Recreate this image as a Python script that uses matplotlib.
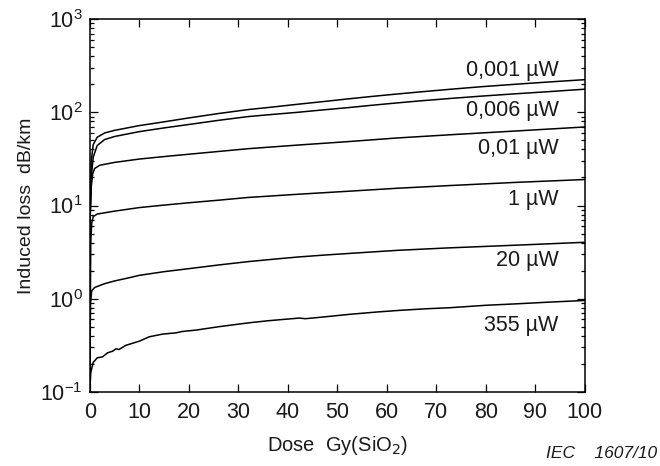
import matplotlib
matplotlib.use("Agg")
import matplotlib.pyplot as plt
import numpy as np

plt.rcParams['font.family'] = ['Liberation Sans', 'DejaVu Sans']
plt.rcParams['axes.unicode_minus'] = False

# Induced loss vs. dose for each launched power
power_labels = ['0,001 µW', '0,006 µW', '0,01 µW', '1 µW', '20 µW', '355 µW']

dose_0001 = [0, 0.1, 0.3, 0.7, 1.5, 3, 5, 10, 15, 20, 26, 32, 37, 42, 47, 52, 57, 62, 67, 73, 79, 86, 93, 100]
loss_0001 = [0.1, 9, 30, 45, 54, 60, 64, 72, 79, 87, 97, 107, 114, 122, 130, 139, 148, 157, 166, 177, 188, 200, 212, 224]

dose_0006 = [0, 0.1, 0.3, 0.7, 1.5, 3, 5, 10, 15, 20, 26, 32, 37, 42, 47, 52, 57, 62, 67, 73, 79, 86, 93, 100]
loss_0006 = [0.1, 8, 20, 33, 44, 51, 55, 62, 68, 74, 82, 90, 95, 100, 106, 112, 119, 126, 133, 141, 149, 158, 167, 177]

dose_001 = [0, 0.1, 0.3, 0.6, 1, 2, 5, 10, 15, 20, 26, 32, 42, 52, 62, 73, 86, 100]
loss_001 = [0.1, 8, 16, 22, 25, 27, 29, 31.5, 33.5, 35.5, 38, 40.7, 44.5, 48.4, 53, 57.5, 63, 69.6]

dose_1 = [0, 0.2, 0.4, 0.7, 1.5, 5, 10, 15, 20, 26, 32, 42, 52, 62, 73, 86, 100]
loss_1 = [0.1, 4, 6.5, 7.6, 8.1, 8.7, 9.5, 10.1, 10.7, 11.4, 12.2, 13.2, 14.2, 15.3, 16.4, 17.7, 19.0]

dose_20 = [0, 0.15, 0.4, 1, 3, 5, 8, 10, 15, 20, 26, 32, 37, 42, 47, 52, 62, 72, 86, 100]
loss_20 = [0.1, 0.9, 1.22, 1.32, 1.45, 1.55, 1.68, 1.78, 1.95, 2.1, 2.3, 2.5, 2.65, 2.8, 2.93, 3.05, 3.3, 3.5, 3.75, 4.03]

dose_355 = [0, 0.2, 0.67, 1.5, 2.6, 3.6, 4.6, 5.3, 5.9, 7.3, 10, 12, 14.7, 17.4, 18.7, 21.4,
            26, 32, 36, 40, 42.4, 43.5, 47, 52.5, 58, 62.6, 68, 72.7, 80, 86, 93, 100]
loss_355 = [0.1, 0.16, 0.206, 0.232, 0.238, 0.263, 0.273, 0.29, 0.285, 0.316, 0.35, 0.39, 0.417, 0.43, 0.445, 0.46,
            0.50, 0.55, 0.58, 0.605, 0.62, 0.61, 0.635, 0.68, 0.72, 0.75, 0.78, 0.80, 0.85, 0.88, 0.92, 0.957]

# where each curve label sits
label_x = 94.7
label_y = [284, 104, 41.4, 11.6, 2.59, 0.516]

curves = [(dose_0001, loss_0001), (dose_0006, loss_0006), (dose_001, loss_001),
          (dose_1, loss_1), (dose_20, loss_20), (dose_355, loss_355)]

fig = plt.figure(figsize=(6.6, 4.66), dpi=100)
ax = fig.add_axes([0.136, 0.159, 0.75, 0.8])

for d, l in curves:
    ax.plot(d, l, color='black', linewidth=1.1)

for name, y in zip(power_labels, label_y):
    ax.text(label_x, y, name, ha='right', va='center', fontsize=15.5, color='#1a1a1a')

ax.set_yscale('log')
ax.set_xlim(0, 100)
ax.set_ylim(0.1, 1000)
ax.set_xticks(np.arange(0, 101, 10))

ax.tick_params(which='both', direction='in', top=True, right=True, labelsize=15.5,
               labelcolor='#1a1a1a', width=0.9)
ax.tick_params(which='major', length=6)
ax.tick_params(which='minor', length=3)
ax.tick_params(axis='x', which='major', pad=7)
ax.tick_params(axis='y', which='major', pad=5)
for s in ax.spines.values():
    s.set_linewidth(1.1)

ax.set_xlabel('Dose  Gy(SiO$_2$)', fontsize=14.5, color='#1a1a1a', labelpad=8)
ax.set_ylabel('Induced loss  dB/km', fontsize=14, color='#1a1a1a', labelpad=4)

fig.text(0.995, 0.01, 'IEC    1607/10', ha='right', va='bottom', fontsize=12.5,
         style='italic', color='#1a1a1a')

fig.savefig('out.png', dpi=100)
